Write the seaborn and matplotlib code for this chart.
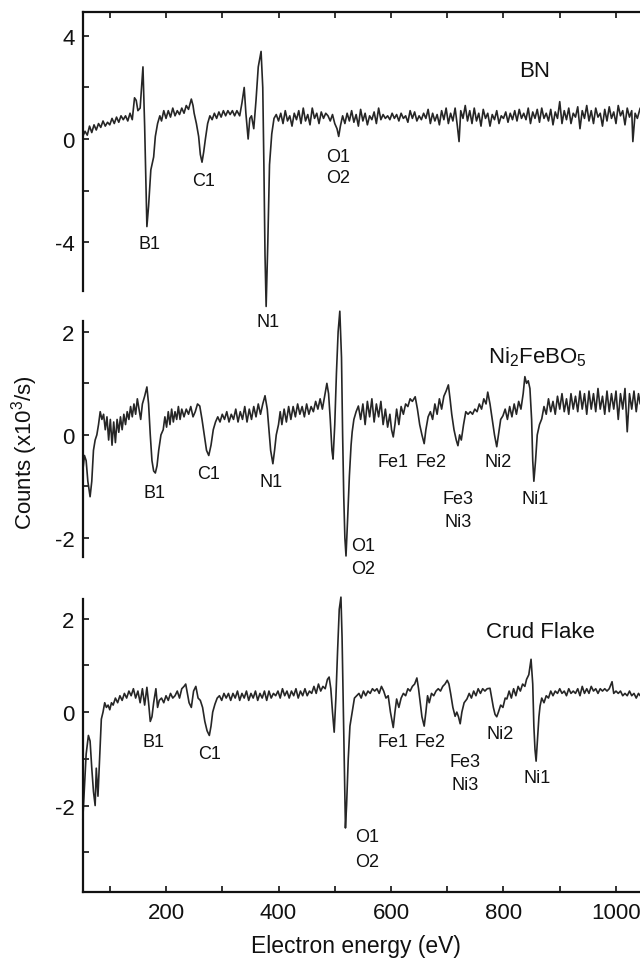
import numpy as np
import pandas as pd
import matplotlib
matplotlib.use("Agg")
import matplotlib.pyplot as plt
from matplotlib.ticker import MultipleLocator, FixedLocator
import seaborn as sns

# ---------------- data ----------------
bn_ev = [52, 56, 60, 64, 68, 72, 76, 80, 84, 88,
         92, 96, 100, 104, 108, 112, 116, 120, 124, 128,
         132, 136, 140, 144, 147, 150, 154, 159, 162, 166,
         169, 173, 175, 178, 181, 185, 189, 192, 196, 200,
         204, 208, 212, 216, 220, 224, 228, 232, 236, 240,
         245, 248, 250, 254, 258, 261, 264, 267, 270, 274,
         278, 282, 286, 290, 294, 298, 302, 306, 310, 314,
         318, 322, 326, 331, 335, 339, 342, 346, 349, 352,
         356, 360, 364, 369, 372, 374, 376, 378, 381, 384,
         388, 392, 396, 400, 404, 408, 412, 416, 420, 424,
         428, 432, 436, 440, 444, 448, 452, 456, 460, 464,
         468, 472, 476, 480, 484, 488, 492, 496, 500, 504,
         507, 510, 514, 518, 522, 526, 530, 534, 538, 542,
         546, 550, 554, 558, 562, 566, 570, 574, 578, 582,
         586, 590, 594, 598, 602, 606, 610, 614, 618, 622,
         626, 630, 634, 638, 642, 646, 650, 654, 658, 662,
         666, 670, 674, 678, 682, 686, 690, 694, 698, 702,
         706, 710, 714, 718, 721, 724, 728, 732, 736, 740,
         744, 748, 752, 756, 760, 764, 768, 772, 776, 780,
         784, 788, 792, 796, 800, 804, 808, 812, 816, 820,
         824, 828, 832, 836, 840, 844, 848, 852, 856, 860,
         864, 868, 872, 876, 880, 884, 888, 892, 896, 900,
         904, 908, 912, 916, 920, 924, 928, 932, 936, 940,
         944, 948, 952, 956, 960, 964, 968, 972, 976, 980,
         984, 988, 992, 996, 1000, 1004, 1008, 1012, 1016, 1020,
         1024, 1028, 1030, 1034, 1038, 1043]
bn_counts = [0.1, 0.3, 0.15, 0.5, 0.25, 0.55, 0.35, 0.6, 0.45, 0.7,
             0.5, 0.65, 0.55, 0.8, 0.6, 0.85, 0.65, 0.9, 0.75, 0.9,
             0.7, 1.0, 0.75, 1.6, 1.5, 1.1, 1.2, 2.8, 0.5, -3.4,
             -2.6, -1.2, -1.0, -0.7, 0.1, 0.6, 0.9, 0.7, 1.1, 0.8,
             1.1, 0.85, 1.2, 0.9, 1.1, 0.95, 1.2, 1.0, 1.3, 1.15,
             1.55, 1.3, 1.0, 0.6, 0.1, -0.6, -0.9, -0.5, 0.0, 0.6,
             0.9, 0.75, 1.0, 0.8, 1.05, 0.85, 1.1, 0.9, 1.1, 0.95,
             1.1, 0.9, 1.1, 0.9, 1.4, 2.0, 1.0, 0.0, 0.8, 0.9,
             0.4, 1.5, 2.8, 3.4, 2.0, -1.0, -4.5, -6.5, -4.0, -1.0,
             0.2, 0.8, 0.95, 0.7, 1.0, 0.6, 1.1, 0.7, 0.9, 0.5,
             1.0, 0.75, 1.1, 0.6, 1.2, 0.7, 0.95, 0.55, 1.2, 0.8,
             1.0, 0.6, 1.05, 0.8, 1.0, 0.9, 0.7, 0.95, 0.6, 0.4,
             0.1, 0.5, 0.9, 0.6, 1.0, 0.7, 1.1, 0.65, 0.95, 0.5,
             1.15, 0.7, 1.0, 0.55, 0.9, 0.75, 1.05, 0.6, 1.2, 0.75,
             0.95, 0.8, 0.9, 0.75, 1.0, 0.8, 0.95, 0.7, 1.0, 0.8,
             0.9, 0.65, 1.1, 0.8, 1.05, 0.7, 0.9, 0.75, 1.0, 0.8,
             1.15, 0.6, 1.0, 0.7, 0.95, 0.55, 1.1, 0.75, 1.2, 0.6,
             1.0, 0.7, 1.2, 0.5, -0.1, 1.1, 0.8, 1.3, 0.7, 1.1,
             0.6, 1.2, 0.7, 1.0, 0.5, 1.15, 0.8, 1.0, 0.5, 0.95,
             0.75, 1.1, 0.6, 0.9, 0.8, 1.05, 0.65, 1.0, 0.75, 1.1,
             0.7, 1.15, 0.8, 1.0, 0.75, 1.2, 0.6, 1.05, 0.8, 1.15,
             0.65, 1.2, 0.8, 1.0, 0.7, 1.15, 0.55, 1.05, 0.8, 1.45,
             0.6, 1.1, 0.75, 1.2, 0.6, 1.0, 0.85, 1.25, 0.4, 1.1,
             0.8, 1.3, 0.7, 1.1, 0.6, 1.2, 0.85, 1.0, 0.5, 1.15,
             0.7, 1.25, 0.8, 1.05, 0.6, 1.3, 0.9, 1.1, 0.55, 1.2,
             0.85, 1.1, -0.1, 1.0, 0.8, 1.2]

ni_ev = [52, 55, 58, 61, 65, 68, 71, 74, 77, 80,
         83, 86, 89, 92, 95, 98, 101, 104, 107, 110,
         113, 116, 119, 122, 125, 128, 131, 134, 137, 140,
         143, 146, 149, 152, 155, 158, 162, 166, 169, 172,
         175, 178, 181, 184, 187, 191, 195, 198, 201, 204,
         207, 210, 213, 216, 219, 222, 225, 228, 232, 236,
         240, 244, 248, 252, 256, 260, 264, 268, 272, 276,
         280, 284, 288, 292, 296, 300, 304, 308, 312, 316,
         320, 324, 328, 332, 336, 340, 344, 348, 352, 356,
         360, 364, 368, 372, 376, 380, 383, 386, 390, 393,
         396, 400, 403, 406, 410, 414, 418, 422, 426, 430,
         434, 438, 442, 446, 450, 454, 458, 462, 466, 470,
         474, 478, 482, 486, 489, 492, 495, 497, 500, 503,
         506, 509, 512, 514, 516, 518, 520, 523, 526, 529,
         531, 534, 538, 542, 546, 550, 554, 558, 562, 566,
         570, 574, 578, 582, 586, 590, 594, 598, 601, 604,
         607, 610, 614, 618, 622, 626, 630, 634, 638, 643,
         647, 651, 655, 659, 662, 666, 670, 674, 678, 682,
         686, 690, 694, 698, 702, 705, 708, 712, 716, 719,
         722, 725, 729, 733, 737, 741, 745, 749, 753, 757,
         761, 765, 769, 772, 776, 780, 784, 788, 791, 795,
         799, 803, 807, 811, 815, 819, 823, 827, 831, 835,
         838, 841, 844, 847, 850, 852, 854, 857, 860, 864,
         868, 872, 876, 880, 884, 888, 892, 896, 900, 904,
         908, 912, 916, 920, 924, 928, 932, 936, 940, 944,
         948, 952, 956, 960, 964, 968, 972, 976, 980, 984,
         988, 992, 996, 1000, 1004, 1008, 1012, 1016, 1020, 1024,
         1028, 1032, 1036, 1040, 1043]
ni_counts = [-0.7, -0.4, -0.5, -0.9, -1.2, -0.9, -0.3, -0.1, 0.0, 0.2,
             0.45, 0.3, 0.4, 0.1, 0.35, -0.1, 0.3, -0.2, 0.25, -0.15,
             0.3, 0.05, 0.35, 0.1, 0.4, 0.2, 0.45, 0.3, 0.55, 0.35,
             0.6, 0.4, 0.7, 0.5, 0.3, 0.6, 0.75, 0.93, 0.6, 0.0,
             -0.5, -0.7, -0.74, -0.6, -0.3, 0.0, 0.1, 0.35, 0.15, 0.45,
             0.2, 0.5, 0.25, 0.45, 0.3, 0.55, 0.3, 0.5, 0.35, 0.5,
             0.4, 0.55, 0.35, 0.45, 0.6, 0.56, 0.3, 0.0, -0.3, -0.4,
             -0.2, 0.1, 0.25, 0.35, 0.25, 0.4, 0.3, 0.45, 0.25, 0.4,
             0.3, 0.5, 0.25, 0.45, 0.3, 0.55, 0.25, 0.5, 0.3, 0.55,
             0.35, 0.6, 0.4, 0.6, 0.76, 0.5, 0.1, -0.3, -0.56, -0.3,
             0.0, 0.2, 0.45, 0.2, 0.5, 0.25, 0.55, 0.3, 0.55, 0.35,
             0.6, 0.4, 0.55, 0.35, 0.6, 0.4, 0.55, 0.45, 0.65, 0.5,
             0.7, 0.5, 0.75, 1.0, 0.8, 0.3, -0.3, -0.47, 0.2, 1.2,
             2.0, 2.4, 1.5, 0.0, -1.2, -2.0, -2.35, -1.6, -0.8, -0.2,
             0.06, 0.3, 0.45, 0.56, 0.3, 0.6, 0.2, 0.65, 0.35, 0.7,
             0.25, 0.6, 0.35, 0.65, 0.2, 0.5, 0.15, 0.4, 0.1, -0.04,
             0.2, 0.5, 0.2, 0.55, 0.4, 0.6, 0.55, 0.7, 0.65, 0.74,
             0.5, 0.2, 0.0, -0.17, 0.1, 0.35, 0.45, 0.3, 0.6, 0.4,
             0.7, 0.5, 0.75, 0.85, 0.97, 0.7, 0.4, 0.1, -0.1, -0.21,
             0.0, -0.1, 0.2, 0.45, 0.4, 0.45, 0.4, 0.5, 0.45, 0.6,
             0.5, 0.7, 0.6, 0.83, 0.6, 0.3, 0.0, -0.23, 0.0, 0.3,
             0.37, 0.5, 0.3, 0.55, 0.35, 0.6, 0.4, 0.65, 0.5, 0.8,
             1.13, 1.0, 1.05, 0.9, 0.3, -0.5, -0.9, -0.5, 0.0, 0.2,
             0.31, 0.55, 0.4, 0.7, 0.45, 0.65, 0.4, 0.75, 0.5, 0.8,
             0.45, 0.7, 0.4, 0.8, 0.5, 0.75, 0.45, 0.85, 0.5, 0.8,
             0.4, 0.85, 0.5, 0.8, 0.45, 0.9, 0.5, 0.75, 0.4, 0.85,
             0.45, 0.8, 0.5, 0.85, 0.3, 0.8, 0.5, 0.9, 0.06, 0.8,
             0.5, 0.85, 0.45, 0.8, 0.6]

cf_ev = [52, 55, 58, 62, 65, 68, 71, 74, 76, 79,
         82, 85, 88, 91, 94, 97, 100, 103, 106, 110,
         114, 118, 122, 126, 130, 134, 138, 142, 146, 150,
         154, 158, 162, 166, 169, 172, 175, 178, 182, 185,
         188, 192, 196, 200, 204, 208, 212, 216, 220, 224,
         228, 232, 235, 238, 241, 245, 249, 253, 257, 261,
         265, 269, 273, 277, 280, 283, 287, 291, 295, 299,
         303, 307, 311, 315, 319, 323, 327, 331, 335, 339,
         343, 347, 351, 355, 359, 363, 367, 371, 375, 379,
         383, 387, 391, 395, 399, 403, 407, 411, 415, 419,
         423, 427, 431, 435, 439, 443, 447, 451, 455, 459,
         463, 467, 471, 475, 479, 483, 487, 490, 493, 496,
         499, 502, 505, 508, 511, 513, 515, 517, 519, 521,
         524, 527, 531, 535, 539, 543, 547, 551, 555, 559,
         563, 567, 571, 575, 579, 583, 587, 591, 595, 599,
         602, 604, 607, 610, 614, 618, 622, 626, 630, 634,
         638, 642, 646, 649, 652, 655, 659, 662, 665, 668,
         672, 676, 680, 684, 688, 692, 696, 700, 703, 706,
         710, 714, 717, 720, 723, 726, 730, 735, 739, 743,
         747, 751, 755, 759, 763, 767, 771, 776, 779, 782,
         785, 788, 791, 795, 799, 803, 806, 810, 814, 818,
         822, 826, 830, 834, 838, 841, 845, 849, 852, 854,
         856, 858, 861, 863, 865, 868, 872, 876, 880, 884,
         888, 892, 896, 900, 904, 908, 912, 916, 920, 924,
         928, 932, 936, 940, 944, 948, 952, 956, 960, 964,
         968, 972, 976, 980, 984, 988, 993, 996, 1000, 1004,
         1008, 1012, 1016, 1020, 1024, 1028, 1032, 1036, 1040, 1043]
cf_counts = [-2.3, -1.6, -0.9, -0.5, -0.62, -1.2, -1.7, -2.0, -1.2, -1.8,
             -1.0, -0.15, 0.0, 0.2, 0.1, 0.15, 0.05, 0.2, 0.15, 0.3,
             0.2, 0.35, 0.25, 0.4, 0.3, 0.45, 0.35, 0.5, 0.3, 0.45,
             0.2, 0.5, 0.15, 0.53, 0.2, -0.2, -0.1, 0.2, 0.5, 0.1,
             0.25, 0.3, 0.2, 0.35, 0.25, 0.4, 0.3, 0.35, 0.45, 0.3,
             0.5, 0.55, 0.6, 0.4, 0.2, 0.1, 0.45, 0.55, 0.3, 0.25,
             0.1, -0.2, -0.4, -0.5, -0.3, 0.0, 0.17, 0.3, 0.35, 0.25,
             0.4, 0.3, 0.4, 0.25, 0.4, 0.3, 0.45, 0.25, 0.4, 0.3,
             0.45, 0.25, 0.4, 0.3, 0.45, 0.25, 0.4, 0.3, 0.45, 0.25,
             0.45, 0.3, 0.4, 0.35, 0.45, 0.3, 0.5, 0.35, 0.45, 0.3,
             0.45, 0.35, 0.5, 0.3, 0.45, 0.35, 0.5, 0.35, 0.45, 0.4,
             0.55, 0.4, 0.6, 0.45, 0.55, 0.5, 0.7, 0.75, 0.5, 0.0,
             -0.43, 0.3, 1.3, 2.2, 2.46, 1.6, 0.2, -1.2, -2.48, -2.0,
             -1.0, -0.3, 0.0, 0.3, 0.35, 0.4, 0.3, 0.45, 0.35, 0.45,
             0.4, 0.5, 0.45, 0.5, 0.4, 0.55, 0.45, 0.3, 0.35, 0.0,
             -0.2, -0.33, 0.0, 0.28, 0.1, 0.3, 0.4, 0.35, 0.5, 0.45,
             0.55, 0.6, 0.73, 0.5, 0.2, -0.1, -0.3, 0.0, 0.35, 0.2,
             0.4, 0.35, 0.45, 0.5, 0.45, 0.55, 0.6, 0.68, 0.6, 0.4,
             0.1, -0.09, 0.0, -0.1, -0.25, 0.0, 0.2, 0.28, 0.4, 0.3,
             0.45, 0.35, 0.5, 0.4, 0.5, 0.45, 0.5, 0.51, 0.3, 0.1,
             -0.05, -0.1, 0.0, 0.15, 0.1, 0.3, 0.28, 0.45, 0.3, 0.5,
             0.35, 0.55, 0.45, 0.6, 0.55, 0.7, 0.8, 1.13, 0.6, -0.3,
             -0.8, -1.05, -0.5, -0.1, 0.13, 0.3, 0.2, 0.35, 0.3, 0.45,
             0.35, 0.45, 0.4, 0.5, 0.4, 0.45, 0.35, 0.5, 0.4, 0.45,
             0.4, 0.5, 0.35, 0.55, 0.4, 0.5, 0.4, 0.55, 0.45, 0.5,
             0.4, 0.5, 0.45, 0.5, 0.45, 0.5, 0.65, 0.4, 0.45, 0.4,
             0.45, 0.35, 0.4, 0.35, 0.45, 0.35, 0.4, 0.3, 0.4, 0.35]

sample_names = ["BN", "Ni$_2$FeBO$_5$", "Crud Flake"]

# peak labels: (text, energy, counts) per panel
bn_labels = [("B1", 171, -4.04), ("C1", 266, -1.63), ("N1", 381, -7.1),
             ("O1", 506, -0.66), ("O2", 506, -1.48)]
ni_labels = [("B1", 179, -1.11), ("C1", 276, -0.74), ("N1", 386, -0.91),
             ("O1", 550, -2.15), ("O2", 550, -2.6),
             ("Fe1", 604, -0.52), ("Fe2", 671, -0.52),
             ("Fe3", 719, -1.24), ("Ni3", 719, -1.69),
             ("Ni2", 790, -0.52), ("Ni1", 856, -1.24)]
cf_labels = [("B1", 177, -0.64), ("C1", 278, -0.88),
             ("O1", 557, -2.67), ("O2", 557, -3.19),
             ("Fe1", 604, -0.64), ("Fe2", 669, -0.64),
             ("Fe3", 731, -1.05), ("Ni3", 731, -1.54),
             ("Ni2", 794, -0.45), ("Ni1", 860, -1.39)]
title_pos = [(856, 2.64), (861, 1.53), (865, 1.73)]

# ---------------- style ----------------
sns.set_style("ticks")
plt.rcParams["font.family"] = ["Liberation Sans", "DejaVu Sans"]
plt.rcParams["mathtext.default"] = "regular"
plt.rcParams["axes.unicode_minus"] = False

fig = plt.figure(figsize=(6.4, 9.62), dpi=100)
W, H = 640.0, 962.0
XL = (52.4, 1042.7)

def make_ax(top_px, bot_px, ylim):
    ax = fig.add_axes([83 / W, 1 - bot_px / H, (640 - 83) / W, (bot_px - top_px) / H])
    ax.set_xlim(*XL)
    ax.set_ylim(*ylim)
    ax.patch.set_alpha(0)
    return ax

ax1 = make_ax(13, 292, (-5.90, 4.93))
ax2 = make_ax(322, 558, (-2.37, 2.21))
ax3 = make_ax(600, 893, (-3.85, 2.42))

line_col = "#262626"
text_col = "#111111"
datasets = [(ax1, bn_ev, bn_counts, bn_labels),
            (ax2, ni_ev, ni_counts, ni_labels),
            (ax3, cf_ev, cf_counts, cf_labels)]

for i, (ax, ev, cnt, labs) in enumerate(datasets):
    df = pd.DataFrame({"Energy": ev, "Counts": cnt})
    sns.lineplot(data=df, x="Energy", y="Counts", ax=ax, color=line_col,
                 linewidth=1.2, estimator=None, sort=False)
    ax.lines[-1].set_clip_on(False)
    for txt, ex, ey in labs:
        ax.text(ex, ey, txt, ha="center", va="center", fontsize=13,
                color=text_col, clip_on=False)
    tx, ty = title_pos[i]
    ax.text(tx, ty, sample_names[i], ha="center", va="center", fontsize=16,
            color=text_col, clip_on=False)
    ax.set_xlabel("")
    ax.set_ylabel("")
    ax.spines["right"].set_visible(False)
    for s in ax.spines.values():
        s.set_linewidth(1.6)
        s.set_color("#111111")
    ax.tick_params(axis="both", which="both", direction="in", length=4,
                   width=1.2, colors="#111111", labelsize=16, pad=6)

# y ticks
ax1.yaxis.set_major_locator(FixedLocator([-4, 0, 4]))
ax1.yaxis.set_minor_locator(FixedLocator([-2, 2]))
ax2.yaxis.set_major_locator(FixedLocator([-2, 0, 2]))
ax2.yaxis.set_minor_locator(FixedLocator([-1, 1]))
ax3.yaxis.set_major_locator(FixedLocator([-2, 0, 2]))
ax3.yaxis.set_minor_locator(FixedLocator([-3, -1, 1]))

# x ticks
for ax in (ax1, ax2, ax3):
    ax.xaxis.set_major_locator(MultipleLocator(200))
    ax.xaxis.set_minor_locator(MultipleLocator(100))

ax1.spines["bottom"].set_visible(False)
ax1.tick_params(axis="x", which="both", bottom=False, top=True,
                labelbottom=False, labeltop=False)
ax2.spines["bottom"].set_visible(False)
ax2.spines["top"].set_visible(False)
ax2.tick_params(axis="x", which="both", bottom=False, top=False,
                labelbottom=False)
ax3.spines["top"].set_visible(False)
ax3.tick_params(axis="x", which="both", bottom=True, top=False,
                labelbottom=True, pad=7)

fig.text(0.039, 0.529, "Counts (x10$^3$/s)", rotation=90, ha="center",
         va="center", fontsize=16, color=text_col)
fig.text(0.556, 0.0156, "Electron energy (eV)", ha="center", va="center",
         fontsize=16.5, color=text_col)

fig.savefig("out.png", dpi=100)
